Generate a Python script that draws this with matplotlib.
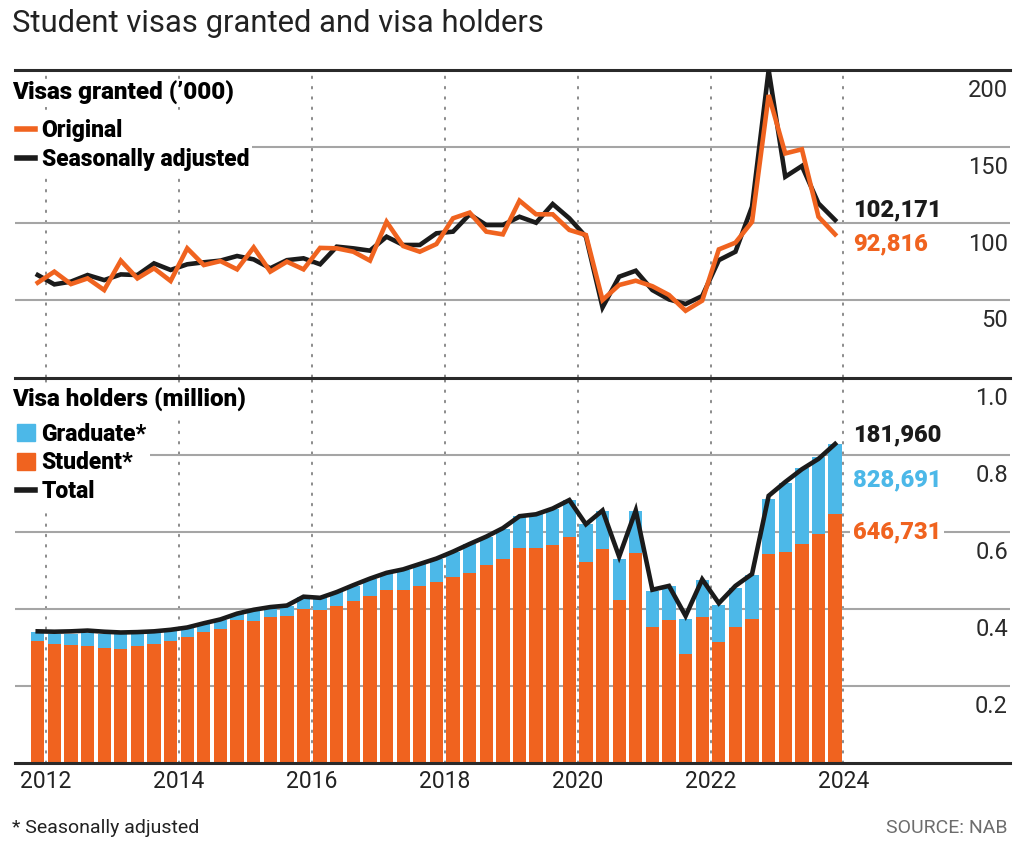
import numpy as np
import matplotlib
matplotlib.use("Agg")
import matplotlib.pyplot as plt
from matplotlib.lines import Line2D
from matplotlib.patches import Patch

plt.rcParams['font.family'] = ['Roboto', 'DejaVu Sans']

# Visas granted ('000), quarterly from 2012 Q1 to 2024 Q1
original = [61.3, 68.5, 60.4, 64.1, 56.5, 75.7, 64.1, 70.7, 62.4, 83.7, 72.8, 75.4, 70.0,
            84.3, 68.5, 75.0, 70.0, 84.0, 83.7, 81.5, 75.7, 101.0, 85.2, 81.5, 86.5, 103.3,
            107.0, 94.6, 92.8, 114.8, 105.9, 105.9, 95.7, 92.4, 50.0, 59.8, 62.6, 59.0, 53.3,
            43.0, 49.6, 83.0, 87.4, 101.0, 183.7, 145.6, 148.3, 104.3, 92.816]
seas_adj = [66.3, 60.2, 62.0, 66.3, 63.0, 66.7, 66.3, 73.9, 69.6, 73.3, 74.6, 75.7, 78.7,
            76.5, 70.7, 76.0, 77.2, 73.3, 84.8, 83.7, 82.2, 91.3, 85.9, 85.9, 93.5, 94.6,
            105.9, 98.9, 98.9, 104.3, 100.4, 112.6, 103.3, 91.3, 45.2, 65.2, 69.1, 56.5, 50.4,
            47.4, 52.6, 76.0, 81.5, 110.9, 200.0, 130.4, 137.4, 113.0, 102.171]

# Visa holders (million)
student = [0.316, 0.310, 0.306, 0.305, 0.298, 0.297, 0.304, 0.310, 0.317, 0.328, 0.340, 0.349,
           0.371, 0.369, 0.378, 0.382, 0.400, 0.398, 0.407, 0.422, 0.435, 0.450, 0.450, 0.460,
           0.469, 0.482, 0.494, 0.515, 0.530, 0.558, 0.558, 0.567, 0.587, 0.523, 0.555, 0.424,
           0.545, 0.352, 0.371, 0.282, 0.378, 0.315, 0.354, 0.374, 0.542, 0.549, 0.568, 0.596,
           0.6467]
graduate = [0.024, 0.025, 0.030, 0.033, 0.038, 0.038, 0.033, 0.029, 0.026, 0.022, 0.022, 0.023,
            0.016, 0.028, 0.026, 0.026, 0.032, 0.032, 0.036, 0.039, 0.043, 0.043, 0.052, 0.056,
            0.061, 0.066, 0.074, 0.072, 0.079, 0.083, 0.088, 0.094, 0.096, 0.097, 0.100, 0.106,
            0.109, 0.096, 0.088, 0.093, 0.098, 0.096, 0.101, 0.115, 0.145, 0.179, 0.199, 0.198,
            0.182]
total = [0.342, 0.341, 0.342, 0.344, 0.341, 0.339, 0.340, 0.342, 0.346, 0.352, 0.363, 0.373,
         0.388, 0.398, 0.405, 0.409, 0.432, 0.429, 0.444, 0.462, 0.479, 0.494, 0.503, 0.517,
         0.531, 0.549, 0.569, 0.588, 0.610, 0.641, 0.646, 0.661, 0.683, 0.620, 0.656, 0.536,
         0.656, 0.450, 0.460, 0.382, 0.477, 0.415, 0.460, 0.491, 0.694, 0.730, 0.763, 0.790,
         0.8287]

year_ticks = [2012, 2014, 2016, 2018, 2020, 2022, 2024]
top_ticks = [50, 100, 150, 200]
bot_ticks = [0.2, 0.4, 0.6, 0.8, 1.0]

ORANGE = '#f0631f'
BLUE = '#4cb8e8'
BLACK = '#1b1b1b'
GRID = '#a5a5a5'

# mid-quarter positions
xq = 2011.875 + 0.25 * np.arange(len(original))

W, H = 1024, 841
fig = plt.figure(figsize=(W / 100, H / 100), dpi=100)


def box(l, t, r, b):
    return [l / W, 1 - b / H, (r - l) / W, (b - t) / H]


ax1 = fig.add_axes(box(15, 70, 1010, 376.7))
ax2 = fig.add_axes(box(15, 378, 1010, 763))

for ax in (ax1, ax2):
    ax.set_xlim(2011.533, 2026.507)
    for s in ('left', 'right', 'bottom'):
        ax.spines[s].set_visible(False)
    ax.spines['top'].set_color('#2a2a2a')
    ax.spines['top'].set_linewidth(2.2)
    ax.set_yticks([])
    for yr in year_ticks:
        ax.axvline(yr, color='#8a8a8a', lw=1.4, ls=(0, (0.8, 4.5)),
                   dash_capstyle='round', zorder=0)

ax2.spines['bottom'].set_visible(True)
ax2.spines['bottom'].set_color('#2a2a2a')
ax2.spines['bottom'].set_linewidth(2.2)

# top panel
ax1.set_ylim(0, 200)
ax1.set_xticks([])
for v in top_ticks[:-1]:
    ax1.axhline(v, color=GRID, lw=1.5, zorder=1)
ax1.plot(xq, seas_adj, color=BLACK, lw=3.3, zorder=3, solid_joinstyle='miter')
ax1.plot(xq, original, color=ORANGE, lw=3.3, zorder=4, solid_joinstyle='miter')

# bottom panel
ax2.set_ylim(0, 1.0)
for v in bot_ticks[:-1]:
    ax2.axhline(v, color=GRID, lw=1.5, zorder=1)
ax2.bar(xq, student, width=0.2, color=ORANGE, zorder=2)
ax2.bar(xq, graduate, width=0.2, bottom=student, color=BLUE, zorder=2)
ax2.plot(xq, total, color=BLACK, lw=3.3, zorder=4, solid_joinstyle='miter')

ax2.set_xticks(year_ticks)
ax2.set_xticklabels([str(y) for y in year_ticks], fontsize=16.5)
ax2.tick_params(axis='x', length=0, pad=5, colors='#222222')

# right-side value labels
for ax, ticks, fmt in ((ax1, top_ticks, '{:.0f}'), (ax2, bot_ticks, '{:.1f}')):
    for v in ticks:
        ax.annotate(fmt.format(v), xy=(1.0, v), xycoords=('axes fraction', 'data'),
                    xytext=(-1.5, -15), textcoords='offset points',
                    ha='right', va='center', fontsize=17, color='#2a2a2a')

# end labels
bold = dict(fontsize=17, fontweight='heavy', ha='left', va='center',
            textcoords='offset points')
ax1.annotate('102,171', xy=(xq[-1], seas_adj[-1]), xytext=(13, 7), color=BLACK, **bold)
ax1.annotate('92,816', xy=(xq[-1], original[-1]), xytext=(13, -6.5), color=ORANGE, **bold)
ax2.annotate('181,960', xy=(xq[-1], total[-1]), xytext=(13, 6.5), color=BLACK, **bold)
ax2.annotate('828,691', xy=(xq[-1], total[-1]), xytext=(13, -26), color=BLUE, **bold)
ax2.annotate('646,731', xy=(xq[-1], student[-1]), xytext=(13, -13), color=ORANGE,
             bbox=dict(facecolor='white', edgecolor='none', pad=2), **bold)

# panel headings and legends
wbox = dict(facecolor='white', edgecolor='none', pad=1)
fig.text(12 / W, 1 - 93 / H, "Visas granted (\u2019000)", fontsize=17.5, fontweight='heavy',
         va='center', ha='left', bbox=wbox)
fig.text(12 / W, 1 - 400 / H, "Visa holders (million)", fontsize=17.5, fontweight='heavy',
         va='center', ha='left', bbox=wbox)

leg_kw = dict(loc='upper left', frameon=True, facecolor='white', edgecolor='none',
              framealpha=1, borderpad=0.15, borderaxespad=0, handlelength=0.75,
              handletextpad=0.3, labelspacing=0.25, prop={'weight': 'heavy', 'size': 16.5})
lg1 = ax1.legend([Line2D([], [], color=ORANGE, lw=4), Line2D([], [], color=BLACK, lw=4)],
                 ['Original', 'Seasonally adjusted'],
                 bbox_to_anchor=(-0.001, 0.85), **leg_kw)
lg1.set_zorder(10)
lg2 = ax2.legend([Patch(color=BLUE), Patch(color=ORANGE), Line2D([], [], color=BLACK, lw=4)],
                 ['Graduate*', 'Student*', 'Total'], handleheight=0.75,
                 bbox_to_anchor=(-0.001, 0.893), **leg_kw)
lg2.set_zorder(10)

fig.text(12 / W, 1 - 24 / H, 'Student visas granted and visa holders', fontsize=22.3,
         va='center', ha='left', color='#222222')
fig.text(12 / W, 1 - 828 / H, '* Seasonally adjusted', fontsize=14, va='center',
         ha='left', color='#222222')
fig.text(1008 / W, 1 - 828 / H, 'SOURCE: NAB', fontsize=14, va='center', ha='right',
         color='#6d6d6d')

fig.savefig('out.png', dpi=100, facecolor='white')
